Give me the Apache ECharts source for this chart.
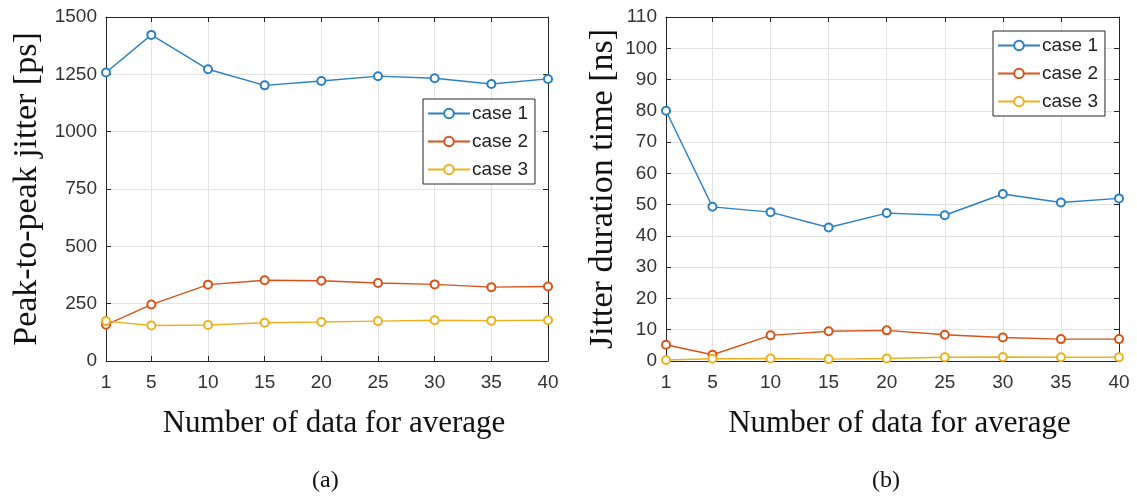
<!DOCTYPE html>
<html>
<head>
<meta charset="utf-8">
<title>Jitter vs. averaging length</title>
<script src="https://cdn.jsdelivr.net/npm/echarts@6/dist/echarts.min.js"></script>
<style>
  html, body { margin: 0; padding: 0; background: #ffffff; }
  #chart { width: 1137px; height: 500px; }
</style>
</head>
<body>
<div id="chart"></div>
<script>
// Number of samples used for averaging (x positions)
const avgCounts = [1, 5, 10, 15, 20, 25, 30, 35, 40];
const xTicks = [1, 5, 10, 15, 20, 25, 30, 35, 40];

// (a) peak-to-peak jitter [ps]
const p2pCase1 = [1258, 1422, 1272, 1202, 1221, 1242, 1233, 1208, 1230];
const p2pCase2 = [158, 246, 333, 352, 350, 340, 334, 322, 325];
const p2pCase3 = [174, 155, 157, 167, 170, 174, 178, 176, 178];

// (b) jitter duration time [ns]
const durCase1 = [80.0, 49.3, 47.6, 42.7, 47.3, 46.6, 53.4, 50.7, 52.0];
const durCase2 = [5.2, 2.0, 8.2, 9.5, 9.8, 8.4, 7.5, 7.0, 7.0];
const durCase3 = [0.3, 0.7, 0.8, 0.6, 0.8, 1.2, 1.3, 1.2, 1.2];

const seriesNames = ['case 1', 'case 2', 'case 3'];
const colors = ['#2a80c2', '#d95319', '#edb120'];

const pairs = (ys) => avgCounts.map((x, i) => [x, ys[i]]);

const axisColor = '#262626';
const gridColor = '#e3e3e3';
const tickFont = { fontFamily: 'Liberation Sans, Arial, sans-serif', fontSize: 19, color: '#333333' };
const titleFont = { fontFamily: 'Liberation Serif, Times New Roman, serif', color: '#111111' };
const plainNumber = (v) => String(v);

function xAxisPair(gridIndex) {
  const base = {
    type: 'value', gridIndex, min: 1, max: 40,
    axisLine: { show: true, onZero: false, lineStyle: { color: axisColor, width: 1 } },
    axisTick: { show: true, inside: true, length: 5, lineStyle: { color: axisColor }, customValues: xTicks }
  };
  return [
    Object.assign({}, base, {
      position: 'bottom',
      axisLabel: Object.assign({ margin: 12, customValues: xTicks, formatter: plainNumber }, tickFont),
      splitLine: { show: true, lineStyle: { color: gridColor, width: 1 } },
      name: 'Number of data for average',
      nameLocation: 'middle',
      nameGap: 47,
      nameTextStyle: Object.assign({ fontSize: 31, padding: [0, 0, 0, 14] }, titleFont)
    }),
    Object.assign({}, base, {
      position: 'top',
      axisLabel: { show: false },
      splitLine: { show: false }
    })
  ];
}

function yAxisPair(gridIndex, max, interval, name, nameGap) {
  const base = {
    type: 'value', gridIndex, min: 0, max, interval,
    axisLine: { show: true, onZero: false, lineStyle: { color: axisColor, width: 1 } },
    axisTick: { show: true, inside: true, length: 5, lineStyle: { color: axisColor } }
  };
  return [
    Object.assign({}, base, {
      position: 'left',
      axisLabel: Object.assign({ margin: 9, formatter: plainNumber }, tickFont),
      splitLine: { show: true, lineStyle: { color: gridColor, width: 1 } },
      name,
      nameLocation: 'middle',
      nameGap,
      nameTextStyle: Object.assign({ fontSize: 34 }, titleFont)
    }),
    Object.assign({}, base, {
      position: 'right',
      axisLabel: { show: false },
      splitLine: { show: false }
    })
  ];
}

function lineSeries(name, data, color, xi, yi) {
  return {
    name, type: 'line', data,
    xAxisIndex: xi, yAxisIndex: yi,
    symbol: 'emptyCircle', symbolSize: 8,
    itemStyle: { color, borderWidth: 1.3 },
    lineStyle: { color, width: 1.4 },
    animation: false
  };
}

function legendBox(left, top) {
  return {
    orient: 'vertical', left, top,
    data: seriesNames,
    itemWidth: 42, itemHeight: 12, itemGap: 9,
    padding: [5, 7, 5, 4],
    backgroundColor: '#ffffff',
    borderColor: axisColor, borderWidth: 1,
    textStyle: { fontFamily: 'Liberation Sans, Arial, sans-serif', fontSize: 19, color: '#222222', padding: [0, 0, 0, -3] },
    selectedMode: false
  };
}

const chart = echarts.init(document.getElementById('chart'), null, { renderer: 'canvas' });

chart.setOption({
  animation: false,
  backgroundColor: '#ffffff',
  color: colors,
  grid: [
    { left: 106, top: 17, width: 442, height: 344 },
    { left: 666, top: 17, width: 453, height: 344 }
  ],
  xAxis: [...xAxisPair(0), ...xAxisPair(1)],
  yAxis: [
    ...yAxisPair(0, 1500, 250, 'Peak-to-peak jitter [ps]', 62),
    ...yAxisPair(1, 110, 10, 'Jitter duration time [ns]', 46)
  ],
  legend: [legendBox(423, 99), legendBox(993, 31)],
  series: [
    lineSeries(seriesNames[0], pairs(p2pCase1), colors[0], 0, 0),
    lineSeries(seriesNames[1], pairs(p2pCase2), colors[1], 0, 0),
    lineSeries(seriesNames[2], pairs(p2pCase3), colors[2], 0, 0),
    lineSeries(seriesNames[0], pairs(durCase1), colors[0], 2, 2),
    lineSeries(seriesNames[1], pairs(durCase2), colors[1], 2, 2),
    lineSeries(seriesNames[2], pairs(durCase3), colors[2], 2, 2)
  ],
  graphic: [
    { type: 'text', left: 312, top: 469, style: { text: '(a)', font: '24px "Liberation Serif", serif', fill: '#111111' } },
    { type: 'text', left: 872, top: 469, style: { text: '(b)', font: '24px "Liberation Serif", serif', fill: '#111111' } }
  ]
});
</script>
</body>
</html>
